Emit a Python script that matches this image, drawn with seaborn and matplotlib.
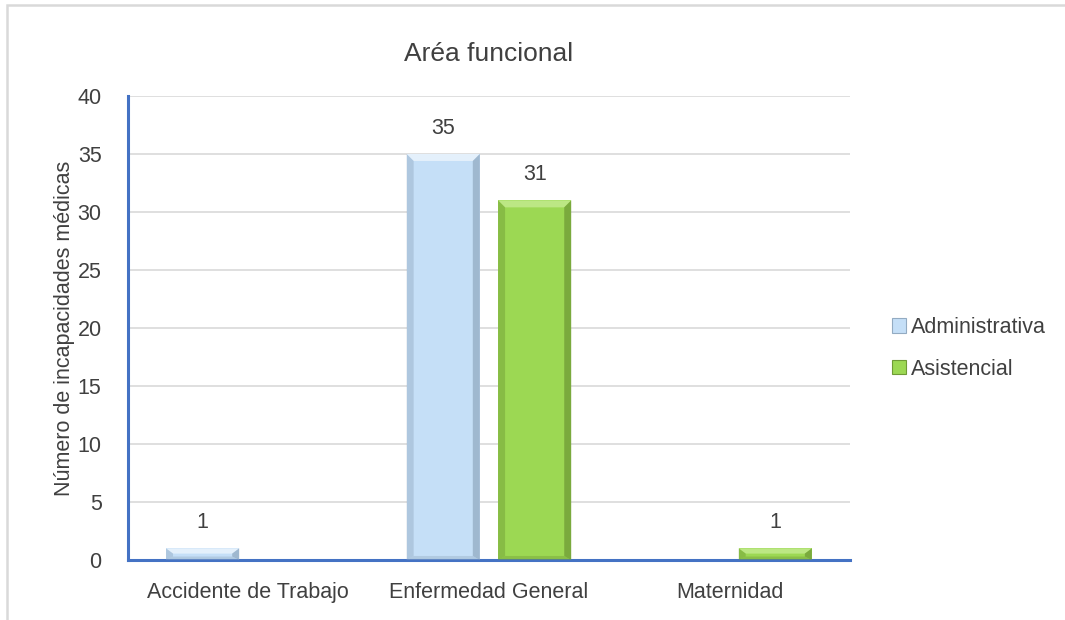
import matplotlib
matplotlib.use("Agg")
import matplotlib.pyplot as plt
from matplotlib.patches import Polygon, Rectangle
import seaborn as sns
import pandas as pd

# Data
categories = ["Accidente de Trabajo", "Enfermedad General", "Maternidad"]
areas = ["Administrativa", "Asistencial"]
administrativa = [1, 35, 0]
asistencial = [0, 31, 1]
y_ticks = [0, 5, 10, 15, 20, 25, 30, 35, 40]

df = pd.DataFrame({
    "categoria": categories * 2,
    "area": [areas[0]] * len(categories) + [areas[1]] * len(categories),
    "valor": administrativa + asistencial,
})

sns.set_theme(style="white")
plt.rcParams["font.family"] = ["Liberation Sans Narrow", "Liberation Sans", "DejaVu Sans"]
text_color = "#404040"

fill = {"Administrativa": "#C5DFF7", "Asistencial": "#9CD853"}
light = {"Administrativa": "#E4F0FB", "Asistencial": "#BCE784"}
dark = {"Administrativa": "#93ABC2", "Asistencial": "#6F9B36"}

fig = plt.figure(figsize=(10.65, 6.2), dpi=100)
ax = fig.add_axes([0.1202, 0.0968, 0.6778, 0.7484])

sns.barplot(data=df, x="categoria", y="valor", hue="area", order=categories,
            hue_order=areas, palette=fill, width=0.76, gap=0.2,
            saturation=1, linewidth=0, ax=ax, legend=False)

ax.set_ylim(0, 40)
ax.set_xlim(-0.5, len(categories) - 0.5)
ax.set_yticks(y_ticks)
ax.yaxis.grid(True, color="#D9D9D9", linewidth=1.2)
ax.set_axisbelow(True)
for s in ["top", "right"]:
    ax.spines[s].set_visible(False)
for s in ["left", "bottom"]:
    ax.spines[s].set_color("#4472C4")
    ax.spines[s].set_linewidth(2.2)
ax.tick_params(axis="both", length=0, colors=text_color, labelsize=15.5)
ax.tick_params(axis="y", pad=19)
ax.tick_params(axis="x", pad=16)
ax.set_xlabel("")
ax.set_ylabel("Número de incapacidades médicas", fontsize=15.5, color=text_color, labelpad=2)
ax.set_title("Aréa funcional", fontsize=19, color=text_color, pad=25)

# Bevel shading on every bar, plus the value label above it
px_x = 1.0 / (ax.get_window_extent().width / (len(categories)))
px_y = 40.0 / ax.get_window_extent().height
hue_of_patch = []
for area in areas:
    hue_of_patch += [area] * len(categories)
for patch, area in zip(ax.patches, hue_of_patch):
    h = patch.get_height()
    if h <= 0:
        continue
    x0 = patch.get_x()
    w = patch.get_width()
    bx = 7 * px_x
    by = min(7 * px_y, h * 0.45)
    bb = min(4 * px_y, h * 0.3)
    x1 = x0 + w
    # top face
    ax.add_patch(Polygon([(x0, h), (x1, h), (x1 - bx, h - by), (x0 + bx, h - by)],
                         closed=True, facecolor=light[area], edgecolor="none", zorder=3))
    # sides
    ax.add_patch(Polygon([(x0, 0), (x0, h), (x0 + bx, h - by), (x0 + bx, bb)],
                         closed=True, facecolor=dark[area], edgecolor="none", alpha=0.45, zorder=3))
    ax.add_patch(Polygon([(x1, 0), (x1, h), (x1 - bx, h - by), (x1 - bx, bb)],
                         closed=True, facecolor=dark[area], edgecolor="none", alpha=0.75, zorder=3))
    ax.add_patch(Polygon([(x0, 0), (x1, 0), (x1 - bx, bb), (x0 + bx, bb)],
                         closed=True, facecolor=dark[area], edgecolor="none", alpha=0.4, zorder=3))
    ax.annotate(f"{int(h)}", (x0 + w / 2, h), xytext=(0, 11), textcoords="offset points",
                ha="center", va="bottom", fontsize=15.5, color=text_color)

# Legend
handles = [Rectangle((0, 0), 1, 1, facecolor=fill[a], edgecolor=dark[a], linewidth=0.8) for a in areas]
leg = fig.legend(handles, areas, loc="center left", bbox_to_anchor=(0.838, 0.438),
                 frameon=False, fontsize=15.5, handlelength=0.65, handleheight=0.65,
                 handletextpad=0.2, labelspacing=0.95, labelcolor=text_color,
                 borderpad=0, borderaxespad=0)

# Chart area border
fig.add_artist(Rectangle((7 / 1065, -0.05), 1.2, 1.05 - 5 / 620, transform=fig.transFigure,
                         facecolor="none", edgecolor="#D9D9D9", linewidth=1.8))

fig.savefig("out.png", dpi=100, facecolor="white")
